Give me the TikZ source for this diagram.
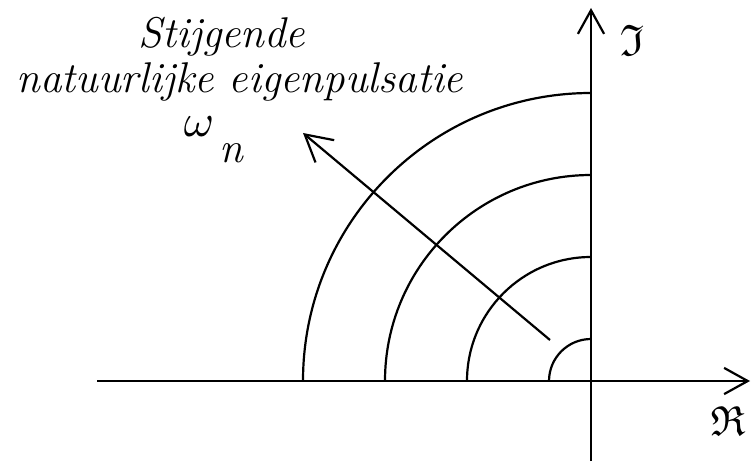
\documentclass[tikz,border=0pt]{standalone}
\usepackage{graphicx}
\usepackage{amssymb}
\usetikzlibrary{arrows.meta, calc}

\begin{document}
\begin{tikzpicture}[
    x=1pt, y=1pt,
    every node/.style={font=\fontsize{43}{46}\selectfont\itshape, inner sep=0pt},
    axis/.style={line width=2.2pt, -{Straight Barb[angle=58:27pt, line width=2.2pt]}},
    ring/.style={line width=2.2pt},
    arrow/.style={line width=2.2pt, -{Straight Barb[angle=58:30pt, line width=2.2pt]}}
]
\useasboundingbox (0,0) rectangle (751,461);

% Axes
\coordinate (O) at (591,80);
\coordinate (xl) at (97,80);
\coordinate (xr) at (750,80);
\coordinate (yb) at (591,0);
\coordinate (yt) at (591,453);
\draw[axis] (xl) -- (xr);
\draw[axis] (yb) -- (yt);
\node[font=\fontsize{42}{42}\selectfont] (re) at (728,40) {$\mathfrak{R}$};
\node[font=\fontsize{44}{44}\selectfont] (im) at (632,421) {$\mathfrak{I}$};

% Quarter circles
\foreach \r in {42,124,206,288}
    \draw[ring] ($(O)+(-\r,0)$) arc (180:90:\r);

% Direction of increasing omega_n
\coordinate (from) at (550,121);
\coordinate (to) at (303,328);
\draw[arrow] (from) -- (to);

% Labels
\node[anchor=base] (stijg) at (222,413) {Stijgende};
\node[anchor=base] (natuur) at (240,368) {natuurlijke eigenpulsatie};
\node[anchor=base, font=\normalsize] (omega) at (199,324) {\scalebox{4.6}{$\omega$}};
\node[anchor=base] (sub) at (231,298) {n};

\end{tikzpicture}
\end{document}
